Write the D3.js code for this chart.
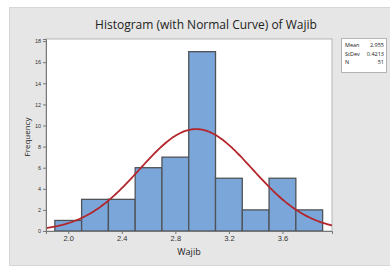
<!DOCTYPE html>
<html>
<head>
<meta charset="utf-8">
<script src="https://cdn.jsdelivr.net/npm/d3@7"></script>
<style>
  body { margin: 0; background: #fff; }
  svg { display: block; font-family: "Open Sans", "Noto Sans", sans-serif; }
</style>
</head>
<body>
<svg id="chart" width="390" height="267"></svg>
<script>
// histogram of Wajib, bins of width 0.2 centred on these values
var binMids = [2.0, 2.2, 2.4, 2.6, 2.8, 3.0, 3.2, 3.4, 3.6, 3.8];
var counts = [1, 3, 3, 6, 7, 17, 5, 2, 5, 2];
var xTicks = [2.0, 2.4, 2.8, 3.2, 3.6];
var yTicks = [0, 2, 4, 6, 8, 10, 12, 14, 16, 18];
var stats = [["Mean", "2.955"], ["StDev", "0.4213"], ["N", "51"]];
var mean = 2.955, sd = 0.4213, n = 51, binW = 0.2;

var svg = d3.select('#chart');

// grey panel behind everything
svg.append('rect')
    .attr('x', 9.5).attr('y', 7.5).attr('width', 390).attr('height', 258)
    .attr('fill', '#e6e6e6').attr('stroke', '#d6d6d6');

var pl = 46, pr = 332, pt = 39, pb = 231;

var x = d3.scaleLinear().domain([1.834, 3.97]).range([pl, pr]);
var y = d3.scaleLinear().domain([0, 18.2]).range([pb, pt]);

svg.append('rect')
    .attr('x', pl).attr('y', pt)
    .attr('width', pr - pl).attr('height', pb - pt)
    .attr('fill', '#fff').attr('stroke', '#b4b4b4');

svg.selectAll('.bar')
    .data(binMids)
    .enter().append('rect')
    .attr('class', 'bar')
    .attr('x', function(d) { return x(d - binW / 2); })
    .attr('y', function(d, i) { return y(counts[i]); })
    .attr('width', function(d) { return x(d + binW / 2) - x(d - binW / 2); })
    .attr('height', function(d, i) { return y(0) - y(counts[i]); })
    .attr('fill', '#7ba6d9')
    .attr('stroke', '#4f5358')
    .attr('stroke-width', 1.3);

// fitted normal curve scaled to counts
var curvePts = d3.range(0, 201).map(function(i) {
    var xv = x.domain()[0] + (x.domain()[1] - x.domain()[0]) * i / 200;
    var z = (xv - mean) / sd;
    return [xv, n * binW / (sd * Math.sqrt(2 * Math.PI)) * Math.exp(-z * z / 2)];
});
svg.append('path')
    .datum(curvePts)
    .attr('d', d3.line().x(function(d) { return x(d[0]); }).y(function(d) { return y(d[1]); }))
    .attr('fill', 'none')
    .attr('stroke', '#b3262b')
    .attr('stroke-width', 1.8);

var yAxis = svg.append('g')
    .attr('transform', 'translate(' + pl + ',0)')
    .call(d3.axisLeft(y).tickValues(yTicks).tickSize(3).tickPadding(2));
yAxis.select('.domain').attr('stroke', '#777');
yAxis.selectAll('line').attr('stroke', '#777');
yAxis.selectAll('text').attr('font-size', 5.5).attr('fill', '#333');

var xAxis = svg.append('g')
    .attr('transform', 'translate(0,' + pb + ')')
    .call(d3.axisBottom(x).tickValues(xTicks).tickFormat(d3.format('.1f')).tickSize(3).tickPadding(2));
xAxis.select('.domain').attr('stroke', '#777');
xAxis.selectAll('line').attr('stroke', '#777');
xAxis.selectAll('text').attr('font-size', 7.5).attr('fill', '#333');

svg.append('text')
    .attr('x', 206).attr('y', 29)
    .attr('text-anchor', 'middle')
    .attr('font-size', 12)
    .attr('fill', '#222')
    .text('Histogram (with Normal Curve) of Wajib');

svg.append('text')
    .attr('x', (pl + pr) / 2).attr('y', 255)
    .attr('text-anchor', 'middle')
    .attr('font-size', 9)
    .attr('fill', '#222')
    .text('Wajib');

svg.append('text')
    .attr('transform', 'translate(30,137) rotate(-90)')
    .attr('text-anchor', 'middle')
    .attr('font-size', 8)
    .attr('fill', '#222')
    .text('Frequency');

// stats box
var lg = svg.append('g').attr('transform', 'translate(341,38)');
lg.append('rect')
    .attr('x', 0.5).attr('y', 0.5).attr('width', 45).attr('height', 34)
    .attr('fill', '#fff').attr('stroke', '#b4b4b4');
lg.selectAll('.lab')
    .data(stats)
    .enter().append('text')
    .attr('x', 4)
    .attr('y', function(d, i) { return 9 + i * 8.5; })
    .attr('font-size', 5.5)
    .attr('fill', '#222')
    .text(function(d) { return d[0]; });
lg.selectAll('.val')
    .data(stats)
    .enter().append('text')
    .attr('x', 43)
    .attr('y', function(d, i) { return 9 + i * 8.5; })
    .attr('text-anchor', 'end')
    .attr('font-size', 5.5)
    .attr('fill', '#222')
    .text(function(d) { return d[1]; });
</script>
</body>
</html>
